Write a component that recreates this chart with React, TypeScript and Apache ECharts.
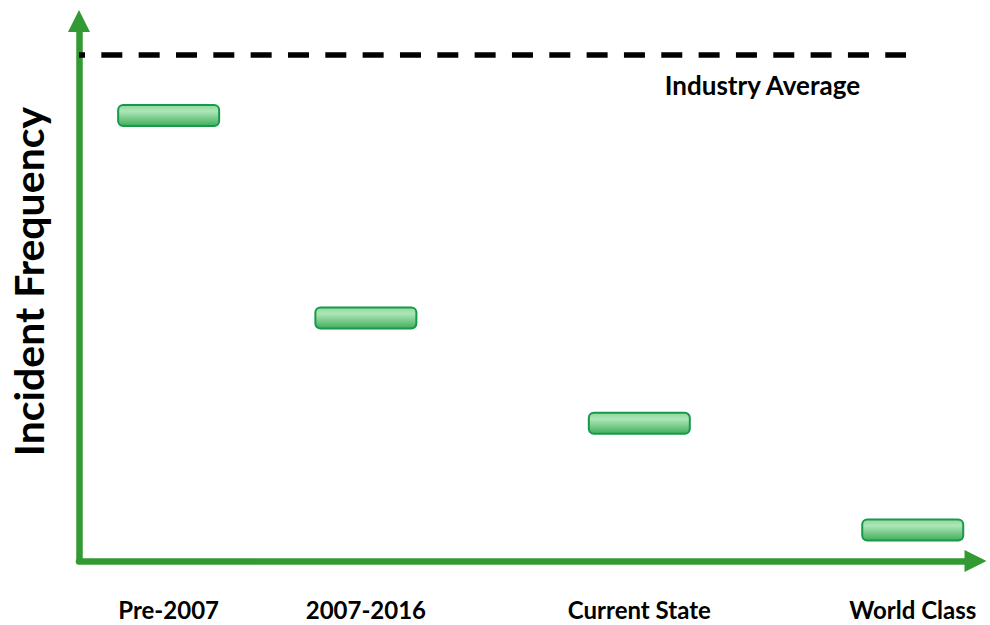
import React, { useEffect, useRef } from "react";
import * as echarts from "echarts";

const categories = ["Pre-2007", "2007-2016", "Current State", "World Class"];
const categoryX = [10, 32, 62.5, 93];
const frequencies = [82.5, 45, 25.5, 5.75];
const industryAverage = 93.8;
const industryLineEnd = 92.25;
const industryLabel = "Industry Average";
const yAxisTitle = "Incident Frequency";

const GREEN = "#339933";
const FONT = 'Lato, "Open Sans", sans-serif';
const BAR_W = 101;
const BAR_H = 21;

export default function App() {
  const ref = useRef<HTMLDivElement>(null);
  useEffect(() => {
    if (!ref.current) return;
    const chart = echarts.init(ref.current, undefined, { renderer: "svg" });
    const axisLine = {
      show: true,
      symbol: ["none", "triangle"],
      symbolSize: [22, 22],
      lineStyle: { color: GREEN, width: 6.5 },
    };
    const barFill = new echarts.graphic.LinearGradient(0, 0, 0, 1, [
      { offset: 0, color: "#8fd79e" },
      { offset: 0.3, color: "#ade6b7" },
      { offset: 1, color: "#40ae5b" },
    ]);
    chart.setOption({
      animation: false,
      backgroundColor: "#ffffff",
      grid: { left: 79, right: 14.5, top: 21, bottom: 64 },
      xAxis: {
        type: "value",
        min: 0,
        max: 100,
        axisLine,
        axisTick: { show: false },
        splitLine: { show: false },
        axisLabel: {
          customValues: categoryX,
          formatter: (v: number) => {
            const i = categoryX.indexOf(v);
            return i >= 0 ? categories[i] : "";
          },
          margin: 48.5,
          verticalAlign: "middle",
          lineHeight: 22,
          fontSize: 24,
          fontWeight: "bold",
          fontFamily: FONT,
          color: "#000000",
        },
      },
      yAxis: {
        type: "value",
        min: 0,
        max: 100,
        axisLine,
        axisTick: { show: false },
        splitLine: { show: false },
        axisLabel: { show: false },
      },
      graphic: [
        {
          type: "text",
          x: 28,
          y: 281.5,
          rotation: Math.PI / 2,
          style: {
            text: yAxisTitle,
            font: `bold 41px ${FONT}`,
            fill: "#000000",
            align: "center",
            verticalAlign: "middle",
          },
        },
      ],
      series: [
        {
          type: "custom",
          encode: { x: 0, y: 1 },
          data: categoryX.map((x, i) => [x, frequencies[i]]),
          renderItem: (params: any, api: any) => {
            const c = api.coord([api.value(0), api.value(1)]);
            return {
              type: "rect",
              shape: {
                x: c[0] - BAR_W / 2,
                y: c[1] - BAR_H / 2,
                width: BAR_W,
                height: BAR_H,
                r: 5,
              },
              style: {
                fill: barFill,
                stroke: "#16994a",
                lineWidth: 2,
              },
            };
          },
          markLine: {
            silent: true,
            symbol: ["none", "none"],
            lineStyle: {
              color: "#000000",
              width: 5.5,
              type: [21, 16.33],
              dashOffset: 15.3,
            },
            label: {
              show: true,
              position: "insideEndBottom",
              distance: [46, 17.5],
              formatter: industryLabel,
              fontSize: 26,
              fontWeight: "bold",
              fontFamily: FONT,
              color: "#000000",
            },
            data: [
              [
                { coord: [0, industryAverage] },
                { coord: [industryLineEnd, industryAverage] },
              ],
            ],
          },
        },
      ],
    });
    return () => chart.dispose();
  }, []);
  return (
    <div
      ref={ref}
      style={{ position: "absolute", left: 0, top: 0, width: 990, height: 625 }}
    />
  );
}
